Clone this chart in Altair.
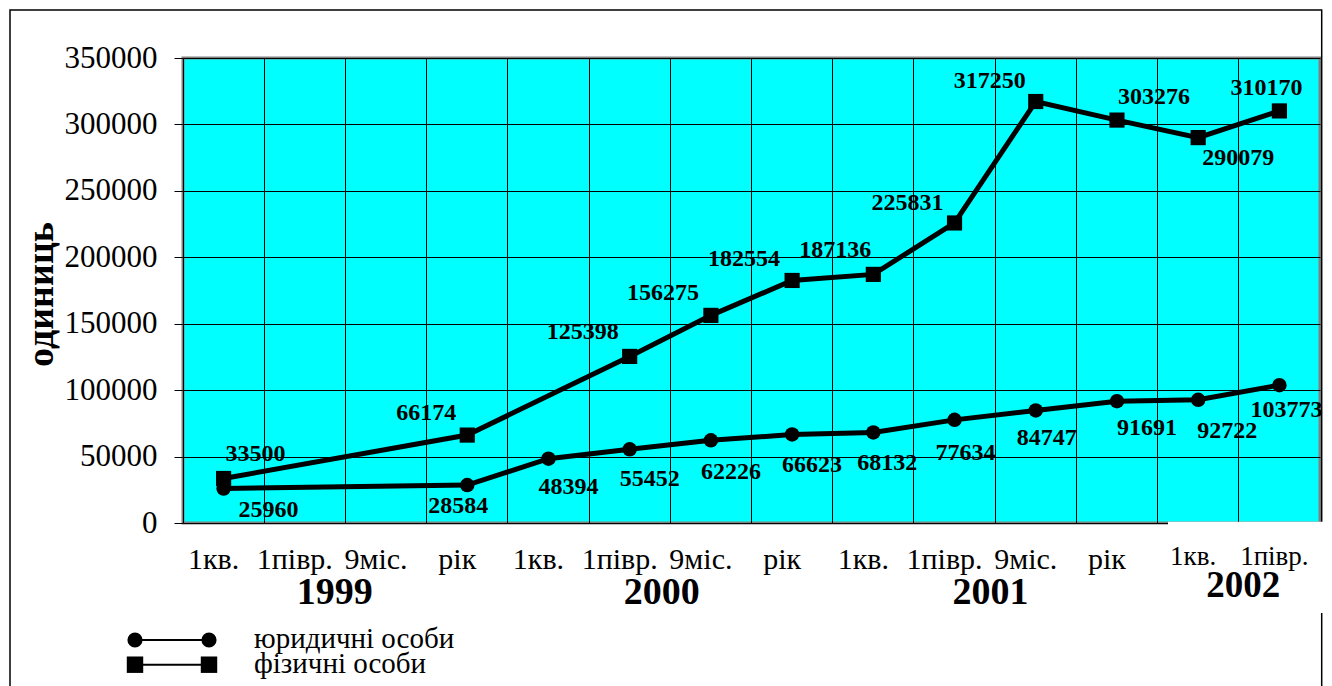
import altair as alt
import pandas as pd

FONT = "'Liberation Serif', 'DejaVu Serif', serif"

# Reporting periods: quarters of 1999-2001 and the first half of 2002
YEARS = ["1999", "2000", "2001", "2002"]
QUARTERS = ["1кв.", "1півр.", "9міс.", "рік"]
PERIODS = [f"{y} {q}" for y in YEARS[:3] for q in QUARTERS] + ["2002 1кв.", "2002 1півр."]

# юридичні особи
LEGAL_PERIODS = ["1999 1кв.", "1999 рік",
                 "2000 1кв.", "2000 1півр.", "2000 9міс.", "2000 рік",
                 "2001 1кв.", "2001 1півр.", "2001 9міс.", "2001 рік",
                 "2002 1кв.", "2002 1півр."]
LEGAL_VALUES = [25960, 28584, 48394, 55452, 62226, 66623,
                68132, 77634, 84747, 91691, 92722, 103773]

# фізичні особи
PERSON_PERIODS = ["1999 1кв.", "1999 рік",
                  "2000 1півр.", "2000 9міс.", "2000 рік",
                  "2001 1кв.", "2001 1півр.", "2001 9міс.", "2001 рік",
                  "2002 1кв.", "2002 1півр."]
PERSON_VALUES = [33500, 66174, 125398, 156275, 182554,
                 187136, 225831, 317250, 303276, 290079, 310170]

# pixel offsets of each value label from its marker
LEGAL_LABEL_DX = [45, -9, 20, 20, 20, 20, 14, 11, 11, 30, 29, 7]
LEGAL_LABEL_DY = [21, 21, 28, 30, 32, 31, 31, 33, 28, 27, 31, 25]
PERSON_LABEL_DX = [32, -41, -47, -48, -48, -38, -47, -46, 37, 40, -13]
PERSON_LABEL_DY = [-24, -22, -24, -22, -21, -24, -20, -21, -23, 20, -23]

# year captions under the quarter labels, anchored on one period of each year
YEAR_ANCHORS = ["1999 1півр.", "2000 1півр.", "2001 1півр.", "2002 1кв."]
YEAR_DX = [30, 32, 36, 45]

LEGEND_NAMES = ["юридичні особи", "фізичні особи"]

W, H = 1137, 465


def series_frame(periods, values, name):
    return pd.DataFrame({
        "period": periods,
        "value": values,
        "idx": [PERIODS.index(p) for p in periods],
        "series": name,
    })


legal = series_frame(LEGAL_PERIODS, LEGAL_VALUES, LEGEND_NAMES[0])
person = series_frame(PERSON_PERIODS, PERSON_VALUES, LEGEND_NAMES[1])

x_enc = alt.X(
    "period:N",
    sort=PERIODS,
    scale=alt.Scale(type="band", domain=PERIODS, paddingInner=0, paddingOuter=0),
    axis=alt.Axis(
        title=None,
        bandPosition=0,
        grid=True, gridColor="black", gridWidth=1,
        domain=False, ticks=False, tickSize=0,
        labelExpr="indexof(datum.value, '2002') == 0 ? '' : split(datum.value, ' ')[1]",
        labelAngle=0,
        labelOffset=-10,
        labelAlign="center",
        labelBaseline="alphabetic",
        labelPadding=45,
        labelFont=FONT, labelFontSize=30, labelColor="black",
        labelOverlap=False, labelFlush=False,
    ),
)

y_enc = alt.Y(
    "value:Q",
    scale=alt.Scale(domain=[0, 350000], nice=False),
    axis=alt.Axis(
        values=list(range(0, 350001, 50000)),
        format="d",
        grid=True, gridColor="black", gridWidth=1,
        domain=False,
        ticks=True, tickSize=9, tickColor="black", tickWidth=1,
        labelFont=FONT, labelFontSize=31, labelColor="black", labelPadding=17,
        title="одиниць",
        titleFont=FONT, titleFontSize=38, titleFontWeight="bold", titleColor="black",
        titleAngle=270, titleAlign="center", titleBaseline="alphabetic",
        titleX=-131, titleY=236,
    ),
)

one_row = pd.DataFrame({"k": [0]})

# outer frame of the figure
frame = alt.Chart(one_row).mark_rect(
    filled=False, stroke="black", strokeWidth=1.5
).encode(
    x=alt.value(-173), x2=alt.value(1138.7),
    y=alt.value(-48), y2=alt.value(700),
)

layers = [frame]

for df, shape, size in [(legal, "circle", 210), (person, "square", 230)]:
    layers.append(
        alt.Chart(df).mark_line(color="black", strokeWidth=5).encode(
            x=x_enc, y=y_enc, order="idx:Q"
        )
    )
    layers.append(
        alt.Chart(df).mark_point(
            shape=shape, filled=True, size=size, color="black", opacity=1
        ).encode(x=x_enc, y=y_enc)
    )

# value labels
for df, dxs, dys in [(legal, LEGAL_LABEL_DX, LEGAL_LABEL_DY),
                     (person, PERSON_LABEL_DX, PERSON_LABEL_DY)]:
    for i in range(len(df)):
        layers.append(
            alt.Chart(df.iloc[[i]]).mark_text(
                font=FONT, fontSize=24, fontWeight="bold", color="black",
                align="center", baseline="middle", dx=dxs[i], dy=dys[i],
            ).encode(x=x_enc, y=y_enc, text=alt.Text("value:Q", format="d"))
        )

# year captions (1999-2001)
for year, anchor, dx in zip(YEARS[:3], YEAR_ANCHORS[:3], YEAR_DX[:3]):
    layers.append(
        alt.Chart(pd.DataFrame({"period": [anchor], "label": [year]})).mark_text(
            font=FONT, fontSize=38, fontWeight="bold", color="black",
            align="center", baseline="alphabetic", dx=dx,
        ).encode(x=x_enc, y=alt.value(546), text="label:N")
    )

# white caption box over the lower right corner
layers.append(
    alt.Chart(one_row).mark_rect(fill="white", stroke=None).encode(
        x=alt.value(985), x2=alt.value(1145),
        y=alt.value(463.7), y2=alt.value(555),
    )
)

# 2002 quarter labels and year caption inside the box
q2002 = pd.DataFrame({"period": ["2002 1кв.", "2002 1півр."],
                      "label": ["1кв.", "1півр."]})
layers.append(
    alt.Chart(q2002).mark_text(
        font=FONT, fontSize=27, color="black", align="center",
        baseline="alphabetic", dx=-5,
    ).encode(x=x_enc, y=alt.value(507), text="label:N")
)
layers.append(
    alt.Chart(pd.DataFrame({"period": [YEAR_ANCHORS[3]], "label": [YEARS[3]]})).mark_text(
        font=FONT, fontSize=37, fontWeight="bold", color="black",
        align="center", baseline="alphabetic", dx=YEAR_DX[3],
    ).encode(x=x_enc, y=alt.value(539), text="label:N")
)

# legend drawn by hand: line with end markers + caption
for row_y, shape, size, name in [(582, "circle", 230, LEGEND_NAMES[0]),
                                 (606.7, "square", 270, LEGEND_NAMES[1])]:
    layers.append(
        alt.Chart(one_row).mark_rule(color="black", strokeWidth=2).encode(
            x=alt.value(-48), x2=alt.value(26), y=alt.value(row_y)
        )
    )
    for px in (-48, 26):
        layers.append(
            alt.Chart(one_row).mark_point(
                shape=shape, filled=True, size=size, color="black", opacity=1
            ).encode(x=alt.value(px), y=alt.value(row_y))
        )
    layers.append(
        alt.Chart(pd.DataFrame({"label": [name]})).mark_text(
            font=FONT, fontSize=29, color="black", align="left", baseline="alphabetic",
        ).encode(x=alt.value(71), y=alt.value(row_y + 8), text="label:N")
    )

chart = alt.layer(*layers).properties(
    width=W,
    height=H,
    padding={"left": 183, "top": 58, "right": 12, "bottom": 163},
    autosize=alt.AutoSizeParams(type="none"),
    background="white",
).configure_view(
    fill="#00FFFF", stroke="#808080", strokeWidth=3
)

chart.save("out.html", embed_options={"renderer": "svg", "actions": False})
